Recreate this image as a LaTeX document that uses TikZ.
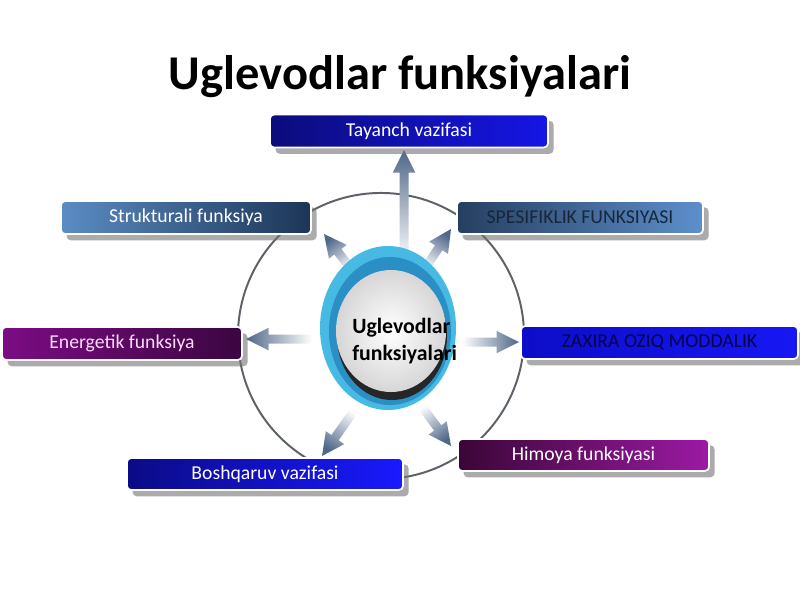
\documentclass[tikz,border=0pt]{standalone}
\usepackage{fontspec}
\setmainfont{Carlito}
\usepackage[HTML]{xcolor}
\usepackage{tikz}
\usetikzlibrary{calc, shapes.geometric, shadows}

\definecolor{arrowc}{HTML}{4F6789}
\definecolor{ringline}{HTML}{5C6268}
\definecolor{ringc}{HTML}{46BAE2}
\definecolor{ringdark}{HTML}{2A8FC4}
\definecolor{tayl}{HTML}{0C0C7C}
\definecolor{tayr}{HTML}{1515E6}
\definecolor{strl}{HTML}{5B8CC4}
\definecolor{strr}{HTML}{1C3556}
\definecolor{spel}{HTML}{263F60}
\definecolor{sper}{HTML}{5D8FCC}
\definecolor{enel}{HTML}{7C0C84}
\definecolor{ener}{HTML}{3A0640}
\definecolor{zaxl}{HTML}{0D0DC8}
\definecolor{zaxr}{HTML}{1717F5}
\definecolor{bosl}{HTML}{0B0B86}
\definecolor{bosr}{HTML}{1919FF}
\definecolor{himl}{HTML}{3A0636}
\definecolor{himr}{HTML}{9C1AA4}

% fat arrow from #1 to #2, shading angle #3
\newcommand{\fatarrow}[3]{%
  \coordinate (h) at ($(#2)!16pt!(#1)$);
  \shade[left color=white, right color=arrowc, shading angle=#3]
    ($(#1)!3.2pt!90:(#2)$) -- ($(h)!3.2pt!-90:(#1)$) -- ($(h)!8pt!-90:(#1)$)
    -- (#2) -- ($(h)!8pt!90:(#1)$) -- ($(h)!3.2pt!90:(#1)$)
    -- ($(#1)!3.2pt!-90:(#2)$) -- cycle;}

\tikzset{
  funcbox/.style={rounded corners=3pt, draw=white, line width=1.2pt,
    minimum height=0.825cm, inner sep=0pt, font=\fontsize{14}{16}\selectfont,
    drop shadow={shadow xshift=4pt, shadow yshift=-4.5pt, fill=black!55, opacity=.6}}
}

\begin{document}
\begin{tikzpicture}[x=0.025cm, y=-0.025cm]
\useasboundingbox (0,0) rectangle (800,600);

% Title
\node[font=\fontsize{34.5}{40}\selectfont\bfseries] (title) at (400,77) {Uglevodlar funksiyalari};

% Outer ring
\draw[ringline, line width=1.4pt] (381,336) circle (3.575cm);

% Arrows out of the centre
\coordinate (s1) at (404,262); \coordinate (t1) at (404,150);
\coordinate (s2) at (352,270); \coordinate (t2) at (324,234);
\coordinate (s3) at (424,270); \coordinate (t3) at (451,229);
\coordinate (s4) at (312,339); \coordinate (t4) at (246,339);
\coordinate (s5) at (462,342); \coordinate (t5) at (519,342);
\coordinate (s6) at (356,408); \coordinate (t6) at (322,456);
\coordinate (s7) at (420,404); \coordinate (t7) at (451,446);
\fatarrow{s1}{t1}{180}
\fatarrow{s2}{t2}{218}
\fatarrow{s3}{t3}{147}
\fatarrow{s4}{t4}{270}
\fatarrow{s5}{t5}{90}
\fatarrow{s6}{t6}{325}
\fatarrow{s7}{t7}{36}

% Centre ellipse
\node[ellipse, minimum width=3.4cm, minimum height=4.1cm, fill=ringc, inner sep=0pt] (ctr) at (388,328) {};
\fill[ringdark] (390,331) ellipse (1.525cm and 1.85cm);
\fill[black!85] (392,336) ellipse (1.375cm and 1.6cm);
\shade[inner color=white, outer color=black!16] (391,331) ellipse (1.375cm and 1.525cm);
\node[align=left, anchor=west, inner sep=0pt, font=\fontsize{15.5}{19}\selectfont\bfseries] (ctrtext) at (352,341) {Uglevodlar\\funksiyalari};

% Function boxes
\node[funcbox, minimum width=6.95cm, left color=tayl, right color=tayr, text=white] (tay) at (409,131) {Tayanch vazifasi};
\node[funcbox, minimum width=6.25cm, left color=strl, right color=strr, text=white] (str) at (186,217.5) {Strukturali funksiya};
\node[funcbox, minimum width=6.15cm, left color=spel, right color=sper, text=spel!60!black] (spe) at (580,217.5) {SPESIFIKLIK FUNKSIYASI};
\node[funcbox, minimum width=6.0cm, left color=enel, right color=ener, text=magenta!15] (ene) at (122,343.5) {Energetik funksiya};
\node[funcbox, minimum width=6.925cm, left color=zaxl, right color=zaxr, text=zaxl!40!black] (zax) at (659.5,342.5) {ZAXIRA OZIQ MODDALIK};
\node[funcbox, minimum width=6.9cm, minimum height=0.8cm, left color=bosl, right color=bosr, text=white] (bos) at (265,474) {Boshqaruv vazifasi};
\node[funcbox, minimum width=6.275cm, minimum height=0.8cm, left color=himl, right color=himr, text=white] (him) at (583.5,455) {Himoya funksiyasi};

\end{tikzpicture}
\end{document}
